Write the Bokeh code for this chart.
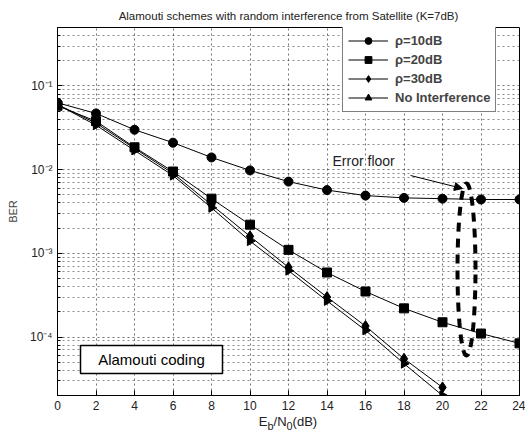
import numpy as np
from bokeh.plotting import figure
from bokeh.layouts import column
from bokeh.models import (FixedTicker, Legend, LegendItem, Label, BoxAnnotation,
                          Arrow, NormalHead, Range1d, ColumnDataSource, Div)
from bokeh.embed import file_html
from bokeh.resources import INLINE

# ---------------- data ----------------
snr = [0, 2, 4, 6, 8, 10, 12, 14, 16, 18, 20, 22, 24]
ber_rho10 = [0.063, 0.047, 0.030, 0.021, 0.014, 0.0098, 0.0072, 0.0057, 0.0049,
             0.0046, 0.0045, 0.0044, 0.0044]
ber_rho20 = [0.058, 0.038, 0.0185, 0.0095, 0.0045, 0.0022, 0.0011, 5.9e-4, 3.5e-4,
             2.2e-4, 1.5e-4, 1.1e-4, 8.4e-5]
snr_short = [0, 2, 4, 6, 8, 10, 12, 14, 16, 18, 20]
ber_rho30 = [0.060, 0.036, 0.018, 0.009, 0.0038, 0.0016, 6.8e-4, 3.0e-4, 1.35e-4,
             5.5e-5, 2.5e-5]
ber_noint = [0.060, 0.034, 0.017, 0.0085, 0.0035, 0.0014, 6.2e-4, 2.7e-4, 1.2e-4,
             4.8e-5, 2.0e-5]
labels = ["\u03c1=10dB", "\u03c1=20dB", "\u03c1=30dB", "No Interference"]
x_ticks = list(range(0, 25, 2))
y_major = [1e-4, 1e-3, 1e-2, 1e-1]
y_major_labels = ["10\u207b\u2074", "10\u207b\u00b3", "10\u207b\u00b2", "10\u207b\u00b9"]

FONT = "Liberation Sans"
X0, X1 = 0, 24
Y0, Y1 = 2e-5, 0.5

# geometry (pixels)
W, H = 525, 438
FIG_H = 412
FL, FR, FT, FB = 57, 519, 27, 395


def px_to_x(px):
    return X0 + (px - FL) / (FR - FL) * (X1 - X0)


def py_to_y(py):
    ly1, ly0 = np.log10(Y1), np.log10(Y0)
    return 10 ** (ly1 - (py - FT) / (FB - FT) * (ly1 - ly0))


p = figure(width=W, height=FIG_H, y_axis_type="log", output_backend="svg",
           toolbar_location=None, x_range=Range1d(X0, X1), y_range=Range1d(Y0, Y1),
           min_border_left=FL, min_border_right=W - FR, min_border_top=FT,
           min_border_bottom=FIG_H - FB, margin=0)
p.background_fill_color = "white"
p.border_fill_color = "white"
p.outline_line_color = "black"
p.outline_line_width = 1

p.title.text = "Alamouti schemes with random interference from Satellite (K=7dB)"
p.title.align = "center"
p.title.text_font = FONT
p.title.text_font_size = "11.5px"
p.title.text_font_style = "normal"
p.title.text_color = "#222222"
p.title.standoff = 11

minor = [m * 10.0 ** k for k in range(-5, 0) for m in range(2, 10)]
p.yaxis.ticker = FixedTicker(ticks=y_major, minor_ticks=minor)
p.yaxis.major_label_overrides = {v: s for v, s in zip(y_major, y_major_labels)}
p.xaxis.ticker = FixedTicker(ticks=x_ticks)

for ax in (p.xaxis, p.yaxis):
    ax.major_label_text_font = FONT
    ax.major_label_text_font_size = "12px"
    ax.major_label_text_color = "#222222"
    ax.major_tick_in = 5
    ax.major_tick_out = 0
    ax.minor_tick_in = 3
    ax.minor_tick_out = 0
    ax.axis_line_color = "black"
p.xaxis.minor_tick_line_color = None
p.yaxis.axis_label = "BER"
p.yaxis.axis_label_text_font = FONT
p.yaxis.axis_label_text_font_size = "11px"
p.yaxis.axis_label_text_font_style = "normal"
p.yaxis.axis_label_standoff = 8

p.xgrid.grid_line_color = "black"
p.xgrid.grid_line_alpha = 0.55
p.xgrid.grid_line_dash = "2 3"
p.ygrid.grid_line_color = "black"
p.ygrid.grid_line_alpha = 0.55
p.ygrid.grid_line_dash = "2 3"
p.ygrid.minor_grid_line_color = "black"
p.ygrid.minor_grid_line_alpha = 0.45
p.ygrid.minor_grid_line_dash = "2 3"

# ---------------- series ----------------
items = []
series = [
    (snr, ber_rho10, "circle", 9, 0.0),
    (snr, ber_rho20, "square", 9, 0.0),
    (snr_short, ber_rho30, "diamond", 11, 0.0),
    (snr_short, ber_noint, "triangle", 9, -np.pi / 2),
]
for (xs, ys, mk, sz, ang), lab in zip(series, labels):
    src = ColumnDataSource(dict(x=xs, y=ys, a=[ang] * len(xs)))
    r1 = p.line("x", "y", source=src, line_color="black", line_width=1)
    r2 = p.scatter("x", "y", source=src, marker=mk, size=sz, angle="a",
                   fill_color="black", line_color="black")
    items.append(LegendItem(label=lab, renderers=[r1, r2], index=0))

legend = Legend(items=items, location=(285, 283))
legend.label_text_font = FONT
legend.label_text_font_size = "13px"
legend.label_text_font_style = "bold"
legend.glyph_width = 40
legend.glyph_height = 17
legend.label_height = 17
legend.label_standoff = 7
legend.spacing = 2
legend.padding = 5
legend.border_line_color = "black"
legend.border_line_width = 1
legend.background_fill_color = "white"
legend.background_fill_alpha = 1
p.add_layout(legend)

# ---------------- annotations ----------------
p.add_layout(Label(x=px_to_x(332), y=py_to_y(168), text="Error floor",
                   text_font=FONT, text_font_size="14px", text_color="#222222"))
p.add_layout(Arrow(end=NormalHead(size=8, fill_color="black", line_color="black"),
                   x_start=px_to_x(410), y_start=py_to_y(175),
                   x_end=px_to_x(462), y_end=py_to_y(188),
                   line_color="black", line_width=1))

t = np.linspace(0, 2 * np.pi, 120)
cx, hw = px_to_x(466), (px_to_x(475) - px_to_x(457)) / 2
ly_top, ly_bot = np.log10(py_to_y(183)), np.log10(py_to_y(355))
lyc, lyh = (ly_top + ly_bot) / 2, (ly_top - ly_bot) / 2
p.line(cx + hw * np.cos(t), 10 ** (lyc + lyh * np.sin(t)), line_color="black",
       line_width=4, line_dash="9 7")

p.add_layout(BoxAnnotation(left=px_to_x(80), right=px_to_x(222), top=py_to_y(345),
                           bottom=py_to_y(373), fill_color="white", fill_alpha=1,
                           line_color="black", line_width=1.5, line_alpha=1))
p.add_layout(Label(x=px_to_x(151), y=py_to_y(359), text="Alamouti coding",
                   text_font=FONT, text_font_size="15px", text_color="black",
                   text_align="center", text_baseline="middle"))

# x-axis label with subscripts, as HTML text below the figure
xlabel = Div(text="E<sub>b</sub>/N<sub>0</sub>(dB)", width=FR - FL, height=H - FIG_H,
             margin=(0, 0, 0, FL),
             styles={"text-align": "center", "font-family": FONT, "font-size": "13px",
                     "color": "#222222", "line-height": "15px", "padding-top": "2px",
                     "width": f"{FR - FL}px"})

layout = column(p, xlabel, spacing=0, margin=0)
open("out.html", "w").write(file_html(layout, INLINE))
